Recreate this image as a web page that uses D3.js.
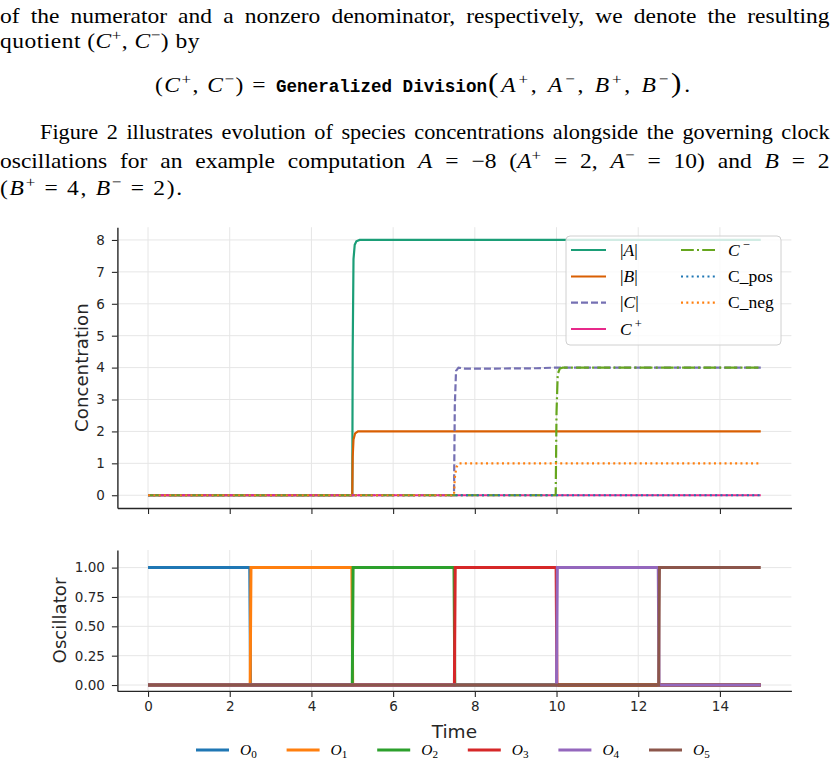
<!DOCTYPE html>
<html>
<head>
<meta charset="utf-8">
<script src="https://cdn.jsdelivr.net/npm/d3@7"></script>
<style>
  html, body { margin: 0; padding: 0; background: #fff; }
  svg { display: block; }
</style>
</head>
<body>
<svg id="fig" width="839" height="763"></svg>
<script>
// ---------------- DATA ----------------
const timeTicks = [0, 2, 4, 6, 8, 10, 12, 14];
const concTicks = [0, 1, 2, 3, 4, 5, 6, 7, 8];
const oscTicks = [0, 0.25, 0.5, 0.75, 1.0];

// Concentration series: [time, value]
const absA   = [[0,0],[5.0,0],[5.01,4.5],[5.03,7.4],[5.06,7.85],[5.1,7.96],[5.18,8],[15,8]];
const absB   = [[0,0],[5.0,0],[5.01,1.2],[5.03,1.75],[5.07,1.94],[5.14,2],[15,2]];
const absC   = [[0,0],[7.49,0],[7.51,2.8],[7.54,3.9],[7.6,4],[7.75,3.97],[8.5,3.97],[9.5,3.98],[10,4],[15,4]];
const cPlus  = [[0,0],[15,0]];
const cMinus = [[0,0],[9.98,0],[10.0,2.6],[10.03,3.8],[10.08,3.97],[10.15,4],[15,4]];
const cPos   = [[0,0],[15,0]];
const cNeg   = [[0,0],[7.49,0],[7.51,0.55],[7.55,0.88],[7.62,1],[15,1]];

const concSeries = [
  {key:"absA",  data:absA,   color:"#1b9e77", dash:null,            label:[{t:"|"},{t:"A",i:1},{t:"|"}]},
  {key:"absB",  data:absB,   color:"#d95f02", dash:null,            label:[{t:"|"},{t:"B",i:1},{t:"|"}]},
  {key:"absC",  data:absC,   color:"#7570b3", dash:"7,3",           label:[{t:"|"},{t:"C",i:1},{t:"|"}]},
  {key:"cPlus", data:cPlus,  color:"#e7298a", dash:null,            label:[{t:"C",i:1},{t:" +",sup:1}]},
  {key:"cMinus",data:cMinus, color:"#66a61e", dash:"12.8,3.2,2,3.2",label:[{t:"C",i:1},{t:" −",sup:1}]},
  {key:"cPos",  data:cPos,   color:"#1f77b4", dash:"2,3.3",         label:[{t:"C_pos"}]},
  {key:"cNeg",  data:cNeg,   color:"#ff7f0e", dash:"2,3.3",         label:[{t:"C_neg"}]}
];

// Oscillator series: [time, value]
const O0 = [[0,1],[2.49,1],[2.51,0],[15,0]];
const O1 = [[0,0],[2.5,0],[2.52,1],[4.99,1],[5.01,0],[15,0]];
const O2 = [[0,0],[5.0,0],[5.02,1],[7.49,1],[7.51,0],[15,0]];
const O3 = [[0,0],[7.5,0],[7.52,1],[9.99,1],[10.01,0],[15,0]];
const O4 = [[0,0],[10.0,0],[10.02,1],[12.49,1],[12.51,0],[15,0]];
const O5 = [[0,0],[12.5,0],[12.52,1],[15,1]];
const oscSeries = [
  {data:O0, color:"#1f77b4", sub:"0"},
  {data:O1, color:"#ff7f0e", sub:"1"},
  {data:O2, color:"#2ca02c", sub:"2"},
  {data:O3, color:"#d62728", sub:"3"},
  {data:O4, color:"#9467bd", sub:"4"},
  {data:O5, color:"#8c564b", sub:"5"}
];

// ---------------- DRAW ----------------
const svg = d3.select("#fig");
const SERIF = "'Liberation Serif', 'DejaVu Serif', serif";
const SANS = "'DejaVu Sans', sans-serif";
const MONO = "'Liberation Mono', 'DejaVu Sans Mono', monospace";
const INK = "#262626";

function rich(sel, segs, size) {
  let shift = 0;
  segs.forEach(s => {
    const ts = sel.append("tspan").text(s.t);
    const target = s.sup ? -size * 0.38 : s.sub ? size * 0.22 : 0;
    if (target !== shift) ts.attr("dy", target - shift);
    shift = target;
    if (s.i) ts.attr("font-style", "italic");
    if (s.sup || s.sub) ts.attr("font-size", size * 0.72);
    if (s.mono) ts.attr("font-family", MONO).attr("font-weight", "bold");
    if (s.size) ts.attr("font-size", s.size);
  });
  return sel;
}
// fit a line of paper text to a target width: widen glyphs a little (the
// original face is wider than Times), then justify with word or letter spacing
function fit(sel, x0, y0, target, words) {
  const node = sel.node();
  const w = node.getComputedTextLength();
  const n = (node.textContent.match(/ /g) || []).length;
  const len = node.textContent.length;
  let g;
  if (words) {
    g = Math.max(1, Math.min(1.12, (target - n * 3) / w));
    if (n > 0) sel.attr("word-spacing", (target / g - w) / n);
  } else {
    g = Math.max(0.9, Math.min(1.12, target / w));
    const rem = target / g - w;
    if (rem > 0) sel.attr("letter-spacing", rem / len);
  }
  sel.attr("transform", `translate(${x0},${y0}) scale(${g},1)`);
  return sel;
}

// ---- paper text ----
const FS = 21;
const tx = svg.append("g").attr("font-family", SERIF).attr("font-size", FS).attr("fill", "#000");
fit(tx.append("text")
  .text("of the numerator and a nonzero denominator, respectively, we denote the resulting"), 0, 23, 830, true);
fit(rich(tx.append("text"),
  [{t:"quotient ("},{t:"C",i:1},{t:"+",sup:1},{t:", "},{t:"C",i:1},{t:"−",sup:1},{t:") by"}], FS), 0, 48, 200, false);
// display equation: left math, typewriter operator name, right math
fit(rich(tx.append("text"),
  [{t:"("},{t:"C",i:1},{t:"+",sup:1},{t:", "},{t:"C",i:1},{t:"−",sup:1},{t:") ="}], FS), 155, 92, 112, false);
tx.append("text").attr("x", 276).attr("y", 92).attr("font-family", MONO).attr("font-weight", "bold")
  .attr("font-size", 17.5).attr("textLength", 211).attr("lengthAdjust", "spacingAndGlyphs")
  .text("Generalized Division");
fit(rich(tx.append("text"),
  [{t:"(",size:28},{t:"A",i:1},{t:"+",sup:1},{t:", "},
   {t:"A",i:1},{t:"−",sup:1},{t:", "},{t:"B",i:1},{t:"+",sup:1},{t:", "},{t:"B",i:1},{t:"−",sup:1},
   {t:")",size:28},{t:"."}], FS), 488, 92, 205, false);
fit(tx.append("text")
  .text("Figure 2 illustrates evolution of species concentrations alongside the governing clock"), 40, 139, 790, true);
fit(rich(tx.append("text"),
  [{t:"oscillations for an example computation "},{t:"A",i:1},{t:" = −8 ("},{t:"A",i:1},{t:"+",sup:1},
   {t:" = 2, "},{t:"A",i:1},{t:"−",sup:1},{t:" = 10) and "},{t:"B",i:1},{t:" = 2"}], FS), 0, 168, 830, true);
fit(rich(tx.append("text"),
  [{t:"("},{t:"B",i:1},{t:"+",sup:1},{t:" = 4, "},{t:"B",i:1},{t:"−",sup:1},{t:" = 2)."}], FS), 0, 195, 184, false);

// ---- scales ----
const x = d3.scaleLinear().domain([-0.75, 15.75]).range([117.4, 791.4]);
const yTop = d3.scaleLinear().domain([-0.4, 8.4]).range([508, 227.2]);
const yBot = d3.scaleLinear().domain([-0.05, 1.15]).range([690.9, 550]);

function grid(g, yS, yTicks) {
  const [y0, y1] = yS.range();
  g.append("g").selectAll("line").data(timeTicks).join("line")
    .attr("x1", d => x(d)).attr("x2", d => x(d)).attr("y1", y0).attr("y2", y1)
    .attr("stroke", "#e6e6e6").attr("stroke-width", 1);
  g.append("g").selectAll("line").data(yTicks).join("line")
    .attr("x1", x.range()[0]).attr("x2", x.range()[1]).attr("y1", d => yS(d)).attr("y2", d => yS(d))
    .attr("stroke", "#e6e6e6").attr("stroke-width", 1);
}
function styleAxis(g) {
  g.select(".domain").attr("stroke", INK).attr("stroke-width", 1.4);
  g.selectAll(".tick line").attr("stroke", INK).attr("stroke-width", 1.1);
  g.selectAll(".tick text").attr("fill", INK).attr("font-family", SANS).attr("font-size", 13.5);
}

// ---- top panel ----
const topPanel = svg.append("g");
grid(topPanel, yTop, concTicks);
const lineTop = d3.line().x(d => x(d[0])).y(d => yTop(d[1]));
topPanel.append("g").selectAll("path").data(concSeries).join("path")
  .attr("d", d => lineTop(d.data)).attr("fill", "none")
  .attr("stroke", d => d.color).attr("stroke-width", 2.2)
  .attr("stroke-dasharray", d => d.dash);
topPanel.append("g").attr("transform", `translate(0,${yTop.range()[0]})`)
  .call(d3.axisBottom(x).tickValues(timeTicks).tickSize(6).tickSizeOuter(0).tickFormat(""))
  .call(styleAxis);
topPanel.append("g").attr("transform", `translate(${x.range()[0]},0)`)
  .call(d3.axisLeft(yTop).tickValues(concTicks).tickSize(5.5).tickPadding(7).tickSizeOuter(0))
  .call(styleAxis);
topPanel.append("text").attr("transform", "translate(88,367.6) rotate(-90)")
  .attr("text-anchor", "middle").attr("font-family", SANS).attr("font-size", 18.2).attr("fill", INK)
  .text("Concentration");

// top legend
const lg = topPanel.append("g");
lg.append("rect").attr("x", 566).attr("y", 236).attr("width", 215).attr("height", 109).attr("rx", 4)
  .attr("fill", "#fff").attr("fill-opacity", 0.8).attr("stroke", "#d0d0d0").attr("stroke-width", 1);
const rowsY = [250, 276.5, 302.7, 329];
concSeries.forEach((s, i) => {
  const col = i < 4 ? 0 : 1;
  const row = i < 4 ? i : i - 4;
  const hx = col === 0 ? 571 : 681;
  const txx = col === 0 ? 620 : 728;
  const yy = rowsY[row];
  lg.append("line").attr("x1", hx).attr("x2", hx + 35).attr("y1", yy).attr("y2", yy)
    .attr("stroke", s.color).attr("stroke-width", 2.2).attr("stroke-dasharray", s.dash);
  const t = lg.append("text").attr("x", txx).attr("y", yy + 5.5)
    .attr("font-family", SERIF).attr("font-size", 17.5).attr("fill", "#000");
  rich(t, s.label, 17.5);
});

// ---- bottom panel ----
const botPanel = svg.append("g");
grid(botPanel, yBot, oscTicks);
const lineBot = d3.line().x(d => x(d[0])).y(d => yBot(d[1]));
botPanel.append("g").selectAll("path").data(oscSeries).join("path")
  .attr("d", d => lineBot(d.data)).attr("fill", "none")
  .attr("stroke", d => d.color).attr("stroke-width", 3);
botPanel.append("g").attr("transform", `translate(0,${yBot.range()[0]})`)
  .call(d3.axisBottom(x).tickValues(timeTicks).tickSize(6).tickPadding(5).tickSizeOuter(0).tickFormat(d3.format("d")))
  .call(styleAxis);
botPanel.append("g").attr("transform", `translate(${x.range()[0]},0)`)
  .call(d3.axisLeft(yBot).tickValues(oscTicks).tickSize(5.5).tickPadding(7).tickSizeOuter(0).tickFormat(d3.format(".2f")))
  .call(styleAxis);
botPanel.append("text").attr("transform", "translate(66,620.5) rotate(-90)")
  .attr("text-anchor", "middle").attr("font-family", SANS).attr("font-size", 18.2).attr("fill", INK)
  .text("Oscillator");
botPanel.append("text").attr("x", 454.4).attr("y", 738)
  .attr("text-anchor", "middle").attr("font-family", SANS).attr("font-size", 18.5).attr("fill", INK)
  .text("Time");

// bottom legend
const bl = botPanel.append("g");
oscSeries.forEach((s, i) => {
  const hx = 196 + i * 90.6;
  bl.append("line").attr("x1", hx).attr("x2", hx + 33).attr("y1", 750).attr("y2", 750)
    .attr("stroke", s.color).attr("stroke-width", 3);
  const t = bl.append("text").attr("x", hx + 44).attr("y", 755)
    .attr("font-family", SERIF).attr("font-size", 15.5).attr("fill", "#000");
  rich(t, [{t:"O",i:1},{t:s.sub,sub:1}], 15.5);
});
</script>
</body>
</html>
